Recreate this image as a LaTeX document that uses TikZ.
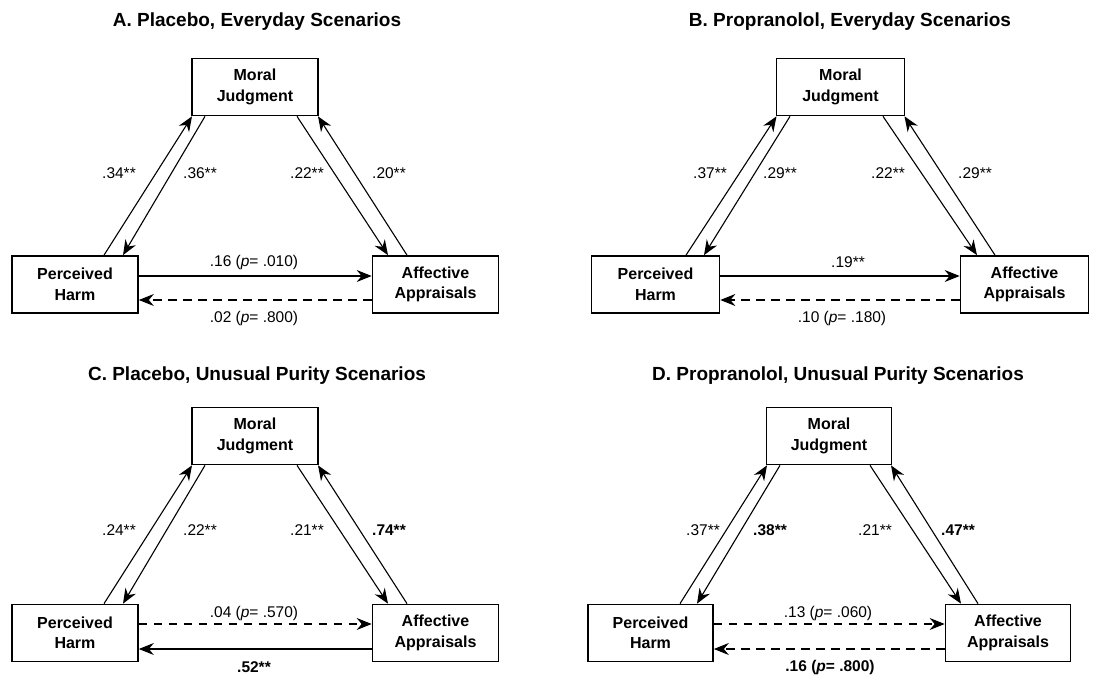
\documentclass[tikz,border=0pt]{standalone}
\usepackage{fontspec}
\setmainfont{Liberation Sans}
\usetikzlibrary{arrows.meta}
\newcommand\pv{\textit{p}}
\tikzset{
  box/.style={draw, line width=1.7pt, minimum width=126pt, minimum height=57pt, inner sep=0pt, align=center, font=\bfseries\fontsize{16}{20.5}\selectfont},
  conn/.style={line width=1.1pt, -{Stealth[length=15pt,width=12pt,inset=5pt]}},
  dconn/.style={conn, dash pattern=on 8.5pt off 6.5pt},
  lbl/.style={font=\fontsize{15.5}{18}\selectfont, inner sep=0pt},
  blbl/.style={font=\bfseries\fontsize{15.5}{18}\selectfont, inner sep=0pt},
  ttl/.style={font=\bfseries\fontsize{19}{22}\selectfont, inner sep=0pt, anchor=base},
}
\begin{document}
\begin{tikzpicture}[x=1pt,y=-1pt]
\useasboundingbox (0,0) rectangle (1107,677);
% ---------- Panel A ----------
\node[ttl] (tA) at (257,26.7) {A. Placebo, Everyday Scenarios};
\node[box] (mjA) at (255,87) {Moral\\Judgment};
\node[box] (phA) at (75,284.5) {Perceived\\Harm};
\node[box] (aaA) at (435.5,284.5) {Affective\\Appraisals};
\draw[conn] ([xshift=29pt]phA.north) -- ([xshift=-63pt]mjA.south);
\draw[conn] ([xshift=-50pt]mjA.south) -- ([xshift=48pt]phA.north);
\draw[conn] ([xshift=42pt]mjA.south) -- ([xshift=-47.5pt]aaA.north);
\draw[conn] ([xshift=-28.5pt]aaA.north) -- ([xshift=63pt]mjA.south);
\draw[conn] ([yshift=8.5pt]phA.east) -- ([yshift=8.5pt]aaA.west);
\draw[dconn] ([yshift=-15.5pt]aaA.west) -- ([yshift=-15.5pt]phA.east);
\node[lbl] (a1) at (119,173) {.34**};
\node[lbl] (a2) at (200,173) {.36**};
\node[lbl] (a3) at (307,173) {.22**};
\node[lbl] (a4) at (389,173) {.20**};
\node[lbl] (a5) at (254,262) {.16 (\pv= .010)};
\node[lbl] (a6) at (254,318) {.02 (\pv= .800)};
% ---------- Panel B ----------
\node[ttl] (tB) at (850,26.7) {B. Propranolol, Everyday Scenarios};
\node[box, minimum width=128pt] (mjB) at (840.5,87) {Moral\\Judgment};
\node[box, minimum width=128pt] (phB) at (655.5,284.5) {Perceived\\Harm};
\node[box, minimum width=128pt] (aaB) at (1024.5,284.5) {Affective\\Appraisals};
\draw[conn] ([xshift=30.5pt]phB.north) -- ([xshift=-64pt]mjB.south);
\draw[conn] ([xshift=-50.5pt]mjB.south) -- ([xshift=48.5pt]phB.north);
\draw[conn] ([xshift=42.5pt]mjB.south) -- ([xshift=-47.5pt]aaB.north);
\draw[conn] ([xshift=-29.5pt]aaB.north) -- ([xshift=64pt]mjB.south);
\draw[conn] ([yshift=8.5pt]phB.east) -- ([yshift=8.5pt]aaB.west);
\draw[dconn] ([yshift=-15.5pt]aaB.west) -- ([yshift=-15.5pt]phB.east);
\node[lbl] (b1) at (710,173) {.37**};
\node[lbl] (b2) at (780,173) {.29**};
\node[lbl] (b3) at (888,173) {.22**};
\node[lbl] (b4) at (975,173) {.29**};
\node[lbl] (b5) at (848,262) {.19**};
\node[lbl] (b6) at (842,318) {.10 (\pv= .180)};
% ---------- Panel C ----------
\node[ttl] (tC) at (257,380) {C. Placebo, Unusual Purity Scenarios};
\node[box] (mjC) at (255,436) {Moral\\Judgment};
\node[box] (phC) at (75,633) {Perceived\\Harm};
\node[box] (aaC) at (435.5,633) {Affective\\Appraisals};
\draw[conn] ([xshift=29pt]phC.north) -- ([xshift=-63pt]mjC.south);
\draw[conn] ([xshift=-50pt]mjC.south) -- ([xshift=48pt]phC.north);
\draw[conn] ([xshift=42pt]mjC.south) -- ([xshift=-47.5pt]aaC.north);
\draw[conn] ([xshift=-28.5pt]aaC.north) -- ([xshift=63pt]mjC.south);
\draw[dconn] ([yshift=9pt]phC.east) -- ([yshift=9pt]aaC.west);
\draw[conn] ([yshift=-16pt]aaC.west) -- ([yshift=-16pt]phC.east);
\node[lbl] (c1) at (119,530) {.24**};
\node[lbl] (c2) at (200,530) {.22**};
\node[lbl] (c3) at (307,530) {.21**};
\node[blbl] (c4) at (389,530) {.74**};
\node[lbl] (c5) at (254,613) {.04 (\pv= .570)};
\node[blbl] (c6) at (254,667) {.52**};
% ---------- Panel D ----------
\node[ttl] (tD) at (838,380) {D. Propranolol, Unusual Purity Scenarios};
\node[box, minimum width=125pt] (mjD) at (829,436) {Moral\\Judgment};
\node[box, minimum width=125pt] (phD) at (650.5,633) {Perceived\\Harm};
\node[box, minimum width=125pt] (aaD) at (1008,633) {Affective\\Appraisals};
\draw[conn] ([xshift=29.5pt]phD.north) -- ([xshift=-62pt]mjD.south);
\draw[conn] ([xshift=-49pt]mjD.south) -- ([xshift=46.5pt]phD.north);
\draw[conn] ([xshift=41pt]mjD.south) -- ([xshift=-47pt]aaD.north);
\draw[conn] ([xshift=-30pt]aaD.north) -- ([xshift=62pt]mjD.south);
\draw[dconn] ([yshift=9pt]phD.east) -- ([yshift=9pt]aaD.west);
\draw[dconn] ([yshift=-16pt]aaD.west) -- ([yshift=-16pt]phD.east);
\node[lbl] (d1) at (703,530) {.37**};
\node[blbl] (d2) at (770,530) {.38**};
\node[lbl] (d3) at (875,530) {.21**};
\node[blbl] (d4) at (958,530) {.47**};
\node[lbl] (d5) at (828,613) {.13 (\pv= .060)};
\node[blbl] (d6) at (830,667) {.16 (\pv= .800)};
\end{tikzpicture}
\end{document}
